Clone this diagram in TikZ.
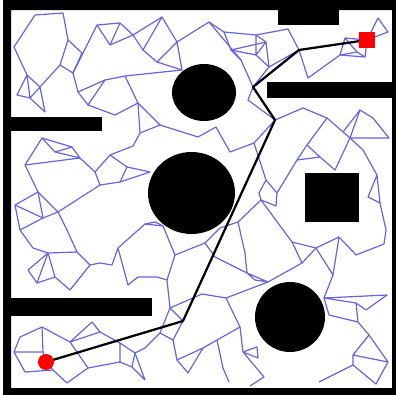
\documentclass[tikz,border=0pt]{standalone}
\usepackage{tikz}
\definecolor{roadblue}{RGB}{100,100,228}

\begin{document}
\begin{tikzpicture}[x=0.025cm,y=-0.025cm,
    edge/.style={roadblue, line width=0.85pt, line join=round},
    route/.style={black, line width=1.6pt, line join=round},
    startdot/.style={circle, fill=red, inner sep=0pt, minimum size=0.4cm},
    goalbox/.style={rectangle, fill=red, inner sep=0pt, minimum size=0.4cm}]
    \useasboundingbox (0,0) rectangle (396,395);

    \coordinate (s) at (46,362);
    \coordinate (q1) at (183,321);
    \coordinate (q2) at (275,120);
    \coordinate (q3) at (253,87);
    \coordinate (q4) at (299,50);
    \coordinate (t) at (367,40);

    \coordinate (a1) at (35,15);   \coordinate (a2) at (63,13);   \coordinate (a3) at (14,47);
    \coordinate (a4) at (68,40);   \coordinate (a5) at (82,53);   \coordinate (a6) at (60,65);
    \coordinate (a7) at (73,73);   \coordinate (a8) at (27,75);   \coordinate (a9) at (40,87);
    \coordinate (a10) at (17,95);  \coordinate (a11) at (30,98);  \coordinate (a12) at (45,112);
    \coordinate (a13) at (97,25);  \coordinate (a14) at (120,23); \coordinate (a15) at (110,45);
    \coordinate (a16) at (133,35); \coordinate (a17) at (162,17); \coordinate (a18) at (143,50);
    \coordinate (a19) at (157,62); \coordinate (a20) at (177,42); \coordinate (a21) at (182,70);
    \coordinate (a22) at (120,182);\coordinate (a23) at (105,80); \coordinate (a24) at (125,76);
    \coordinate (a25) at (78,92);  \coordinate (a26) at (88,105); \coordinate (a27) at (115,115);
    \coordinate (a28) at (138,103);\coordinate (a29) at (140,133);\coordinate (a30) at (160,125);
    \coordinate (a31) at (133,146);\coordinate (a32) at (110,155);\coordinate (a33) at (127,167);
    \coordinate (a34) at (95,172); \coordinate (a35) at (100,185);\coordinate (a36) at (150,172);
    \coordinate (a37) at (42,138); \coordinate (a38) at (55,152); \coordinate (a39) at (72,147);
    \coordinate (a40) at (80,158); \coordinate (a41) at (25,165);

    \coordinate (b1) at (15,205);  \coordinate (b2) at (38,192);  \coordinate (b3) at (43,218);
    \coordinate (b4) at (58,212);  \coordinate (b5) at (20,230);  \coordinate (b6) at (67,230);
    \coordinate (b7) at (33,248);  \coordinate (b8) at (48,253);  \coordinate (b9) at (77,252);
    \coordinate (b10) at (28,270); \coordinate (b11) at (37,283); \coordinate (b12) at (55,277);
    \coordinate (b13) at (70,290); \coordinate (b14) at (90,265); \coordinate (b15) at (100,263);
    \coordinate (b16) at (112,265);\coordinate (b17) at (118,248);\coordinate (b18) at (128,285);
    \coordinate (b19) at (138,277);\coordinate (b20) at (157,277);\coordinate (b21) at (167,280);
    \coordinate (b22) at (145,224);\coordinate (b23) at (155,222);\coordinate (b24) at (163,226);
    \coordinate (b25) at (175,255);

    \coordinate (c1) at (43,352);  \coordinate (c2) at (20,337);  \coordinate (c3) at (42,327);
    \coordinate (c4) at (70,342);  \coordinate (c5) at (92,322);  \coordinate (c6) at (100,332);
    \coordinate (c7) at (120,343); \coordinate (c8) at (135,353); \coordinate (c9) at (145,348);
    \coordinate (c10) at (145,380);\coordinate (c11) at (132,367);\coordinate (c12) at (120,362);
    \coordinate (c13) at (88,368); \coordinate (c14) at (67,383); \coordinate (c15) at (25,372);
    \coordinate (c16) at (14,352); \coordinate (c17) at (53,370); \coordinate (c19) at (170,308);
    \coordinate (c20) at (160,333);\coordinate (c21) at (173,340);\coordinate (c22) at (177,360);
    \coordinate (c23) at (188,373);\coordinate (c24) at (203,348);

    \coordinate (d1) at (209,22);  \coordinate (d2) at (224,32);  \coordinate (d3) at (256,35);
    \coordinate (d4) at (288,29);  \coordinate (d5) at (231,50);  \coordinate (d6) at (256,55);
    \coordinate (d7) at (266,42);  \coordinate (d8) at (241,60);  \coordinate (d9) at (269,67);
    \coordinate (d11) at (308,78); \coordinate (d12) at (373,118);\coordinate (d14) at (248,100);
    \coordinate (d15) at (303,108);\coordinate (d16) at (327,118);\coordinate (d17) at (360,110);
    \coordinate (d18) at (350,138);\coordinate (d19) at (389,138);\coordinate (d20) at (343,132);
    \coordinate (d21) at (307,145);\coordinate (d22) at (297,160);\coordinate (d23) at (320,157);
    \coordinate (d24) at (335,170);\coordinate (d25) at (363,150);\coordinate (d26) at (377,175);
    \coordinate (d27) at (216,127);\coordinate (d28) at (198,137);\coordinate (d29) at (230,152);
    \coordinate (d30) at (254,143);\coordinate (d32) at (266,180);\coordinate (d33) at (277,193);
    \coordinate (d34) at (259,193);
    \coordinate (g1) at (345,38);  \coordinate (g2) at (357,52);  \coordinate (g3) at (365,57);
    \coordinate (g4) at (340,55);  \coordinate (g5) at (378,18);  \coordinate (g6) at (388,32);

    \coordinate (e1) at (261,200); \coordinate (e2) at (276,206); \coordinate (e3) at (238,222);
    \coordinate (e4) at (245,253); \coordinate (e5) at (205,243); \coordinate (e6) at (215,257);
    \coordinate (e7) at (220,228); \coordinate (e8) at (247,273); \coordinate (e9) at (255,280);
    \coordinate (e10) at (268,282);\coordinate (e11) at (226,298);\coordinate (e12) at (202,294);
    \coordinate (e13) at (302,263);\coordinate (e14) at (316,248);\coordinate (e15) at (339,237);
    \coordinate (e16) at (356,255);\coordinate (e17) at (333,275);\coordinate (e18) at (324,298);
    \coordinate (e19) at (384,244);\coordinate (e20) at (368,197);\coordinate (e21) at (380,203);
    \coordinate (e22) at (386,230);\coordinate (e23) at (387,295);\coordinate (e24) at (356,303);
    \coordinate (e25) at (366,310);\coordinate (e26) at (329,315);\coordinate (e27) at (358,322);
    \coordinate (e28) at (369,335);\coordinate (e29) at (388,362);\coordinate (e30) at (353,355);
    \coordinate (e31) at (353,365);\coordinate (e32) at (319,382);\coordinate (e33) at (376,384);
    \coordinate (e34) at (240,327);\coordinate (e35) at (217,340);\coordinate (e37) at (243,352);
    \coordinate (e38) at (257,347);\coordinate (e39) at (258,358);\coordinate (e40) at (264,377);
    \coordinate (e41) at (250,386);\coordinate (e42) at (223,368);\coordinate (e43) at (229,382);
    \coordinate (e44) at (292,242);

    % roadmap
    \draw[edge] (a3) -- (a1) -- (a2) -- (a4) -- (a5) -- (a7) -- (a6) -- (a4);
    \draw[edge] (a6) -- (a9);
    \draw[edge] (a3) -- (a8) -- (a9) -- (a12) -- (a11) -- (a10) -- (a8) -- (a11) -- (a9);
    \draw[edge] (a7) -- (a13) -- (a14) -- (a16) -- (a15) -- (a13);
    \draw[edge] (a14) -- (a15);
    \draw[edge] (a16) -- (a17) -- (a20) -- (d1);
    \draw[edge] (a16) -- (a18) -- (a17);
    \draw[edge] (a18) -- (a19) -- (a21) -- (a20) -- (a19);
    \draw[edge] (a7) -- (a25) -- (a23) -- (a24) -- (a21);
    \draw[edge] (a25) -- (a26) -- (a27) -- (a28) -- (a24);
    \draw[edge] (a26) -- (a23);
    \draw[edge] (a28) -- (a29) -- (a30) -- (a28);
    \draw[edge] (a30) -- (d28) -- (d27) -- (d29) -- (d30) -- (q2);
    \draw[edge] (a29) -- (a31) -- (a32) -- (a34) -- (a35) -- (a22) -- (a33) -- (a32);
    \draw[edge] (a33) -- (a36) -- (a22);
    \draw[edge] (a41) -- (a37) -- (a38) -- (a39) -- (a40) -- (a38);
    \draw[edge] (a37) -- (a39);
    \draw[edge] (a41) -- (a40) -- (a34);
    \draw[edge] (a41) -- (b2);
    \draw[edge] (b4) -- (a35);

    \draw[edge] (b1) -- (b2) -- (b4) -- (b3) -- (b1);
    \draw[edge] (b2) -- (b3) -- (b5) -- (b7) -- (b8) -- (b9) -- (b6) -- (b4);
    \draw[edge] (b1) -- (b5);
    \draw[edge] (b8) -- (b10) -- (b11) -- (b8) -- (b12) -- (b13) -- (b14) -- (b9);
    \draw[edge] (b11) -- (b12);
    \draw[edge] (b14) -- (b15) -- (b16) -- (b17) -- (b18) -- (b19) -- (b20) -- (b21);
    \draw[edge] (b17) -- (b22) -- (b23) -- (b24) -- (b25) -- (b21);
    \draw[edge] (b22) -- (b24);
    \draw[edge] (b25) -- (e5);

    \draw[edge] (c16) -- (c2) -- (c3) -- (c4) -- (c5) -- (c6) -- (c4) -- (c13) -- (c14) -- (c17) -- (s);
    \draw[edge] (c16) -- (c1) -- (c3);
    \draw[edge] (c16) -- (c15) -- (c17);
    \draw[edge] (c1) -- (s);
    \draw[edge] (c6) -- (c7) -- (c8) -- (c10) -- (c11) -- (c12) -- (c7);
    \draw[edge] (c13) -- (c12);
    \draw[edge] (c8) -- (c11);
    \draw[edge] (c8) -- (c9) -- (c20) -- (c19) -- (q1);
    \draw[edge] (c20) -- (c21) -- (q1);
    \draw[edge] (c21) -- (c22) -- (c23) -- (c24) -- (c22);
    \draw[edge] (c24) -- (e35);
    \draw[edge] (b21) -- (c19) -- (e12);

    \draw[edge] (d1) -- (d2) -- (d3) -- (d4) -- (q4) -- (d11) -- (g4) -- (g1) -- (g2) -- (g3) -- (g4);
    \draw[edge] (g4) -- (g2);
    \draw[edge] (g1) -- (t) -- (g3);
    \draw[edge] (t) -- (g5) -- (g6) -- (t);
    \draw[edge] (d2) -- (d5) -- (d6) -- (d3) -- (d7) -- (d6);
    \draw[edge] (d5) -- (d7);
    \draw[edge] (d6) -- (d9) -- (d7);
    \draw[edge] (d1) -- (d8) -- (q3) -- (d9) -- (q4);
    \draw[edge] (d5) -- (d8);
    \draw[edge] (q3) -- (d14) -- (q2);

    \draw[edge] (q2) -- (d15) -- (d16) -- (d21) -- (d22) -- (d23) -- (d21);
    \draw[edge] (d23) -- (d24) -- (d18);
    \draw[edge] (d16) -- (d18) -- (d25) -- (d26) -- (e20) -- (e21) -- (d26);
    \draw[edge] (d18) -- (d17) -- (d12) -- (d19) -- (d18);
    \draw[edge] (d20) -- (d17);
    \draw[edge] (d30) -- (d32) -- (d33) -- (e2) -- (e1) -- (d34) -- (d32);
    \draw[edge] (d22) -- (d33);

    \draw[edge] (e21) -- (e22) -- (e19) -- (e16) -- (e15) -- (e14) -- (e13) -- (e44) -- (e1);
    \draw[edge] (e44) -- (e14);
    \draw[edge] (e14) -- (e17) -- (e15);
    \draw[edge] (e17) -- (e18) -- (e23) -- (e25) -- (e24) -- (e18) -- (e26) -- (e27) -- (e24);
    \draw[edge] (e27) -- (e28) -- (e29) -- (e30) -- (e28);
    \draw[edge] (e30) -- (e31) -- (e32);
    \draw[edge] (e31) -- (e33) -- (e29);

    \draw[edge] (e5) -- (e7) -- (e3) -- (e1);
    \draw[edge] (e5) -- (e6) -- (e8) -- (e9) -- (e10) -- (e8) -- (e4) -- (e3);
    \draw[edge] (e10) -- (e11) -- (e12);
    \draw[edge] (e10) -- (e13);
    \draw[edge] (e11) -- (e34) -- (e35);
    \draw[edge] (e34) -- (e37) -- (e38) -- (e39) -- (e37) -- (e40) -- (e41);
    \draw[edge] (e35) -- (e42) -- (e43);

    % walls and obstacles
    \fill[even odd rule] (3,0) rectangle (396,395) (11,10) rectangle (392,388);
    \fill (278,10) rectangle (339,25);
    \fill (267,82) rectangle (392,98);
    \fill (11,117) rectangle (102,131);
    \fill (11,298) rectangle (152,316);
    \fill (305,173) rectangle (359,222);
    \fill (204,92.5) ellipse (32 and 28.5);
    \fill (191.5,193) ellipse (43.5 and 41);
    \fill (290,317) circle (35);

    % path
    \draw[route] (s) -- (q1) -- (q2) -- (q3) -- (q4) -- (t);
    \node[startdot] (start) at (s) {};
    \node[goalbox] (goal) at (t) {};
\end{tikzpicture}
\end{document}
